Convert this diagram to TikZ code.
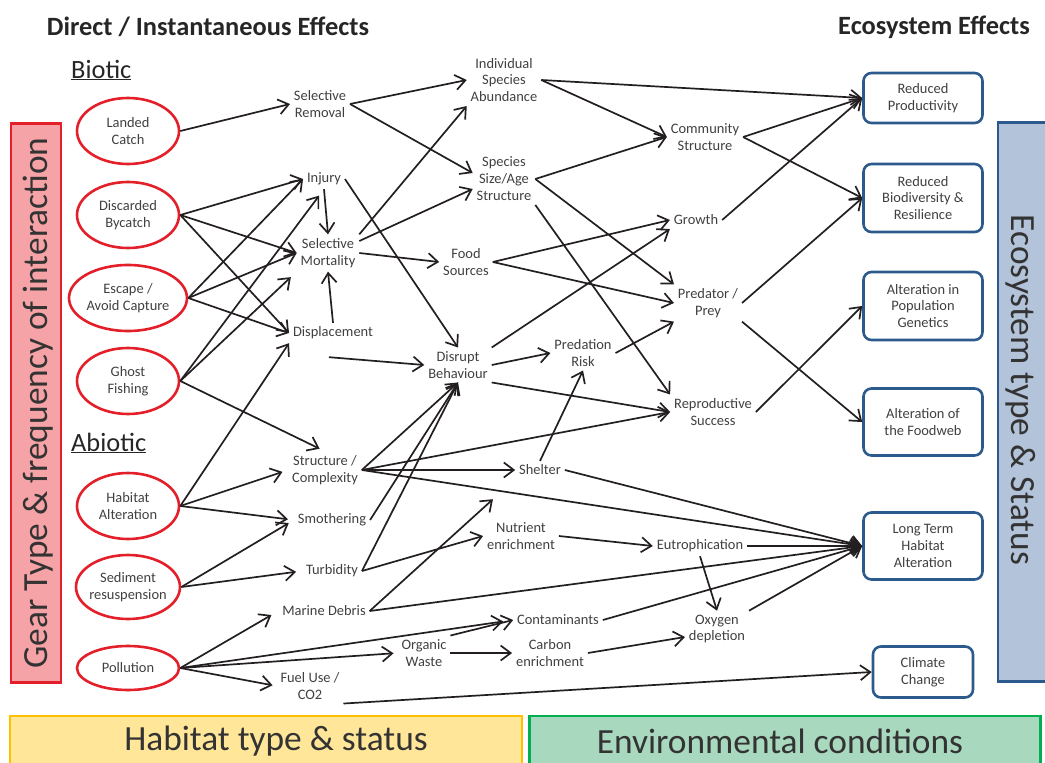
\documentclass[tikz,border=0pt]{standalone}
\usepackage{fontspec}
\setmainfont{Carlito}
\usetikzlibrary{shapes.geometric,arrows.meta,calc}
\definecolor{gearred}{HTML}{E3202A}
\definecolor{gearfill}{HTML}{F5A3A6}
\definecolor{ecoblue}{HTML}{2C5A8C}
\definecolor{ecofill}{HTML}{B3C3D9}
\definecolor{habborder}{HTML}{FFC000}
\definecolor{habfill}{HTML}{FFE699}
\definecolor{envborder}{HTML}{00B050}
\definecolor{envfill}{HTML}{A8D9BF}
\definecolor{txtgray}{HTML}{404040}
\definecolor{arrowc}{HTML}{231F20}
\begin{document}
\begin{tikzpicture}[x=1bp,y=-1bp,
  lbl/.style={align=center,text=txtgray,font=\fontsize{14.5}{17}\selectfont,inner sep=2bp,outer sep=2bp},
  src/.style={ellipse,draw=gearred,line width=2.6bp,minimum width=102bp,minimum height=66bp,inner sep=0pt},
  srctxt/.style={align=center,text=txtgray,font=\fontsize{14.5}{17}\selectfont,inner sep=0pt},
  eco/.style={rectangle,rounded corners=8bp,draw=ecoblue,line width=2.6bp,fill=white,align=center,text=txtgray,font=\fontsize{14.5}{17}\selectfont,minimum width=119bp,minimum height=67bp,inner sep=2bp},
  arr/.style={draw=arrowc,line width=1.7bp,-{Straight Barb[length=10bp,width=15bp]}},
  bigtxt/.style={text=black!80,font=\fontsize{35.5}{40}\selectfont},
  head/.style={text=black!85,font=\bfseries\fontsize{26.5}{30}\selectfont}
]
\useasboundingbox (0,0) rectangle (1045,763);

% side bars and bottom bars
\node[draw=gearred,fill=gearfill,line width=2.6bp,minimum width=50bp,minimum height=559bp,inner sep=0pt] (gear) at (36,403) {};
\node[bigtxt,rotate=90] (geart) at (38,403) {Gear Type \& frequency of interaction};
\node[draw=ecoblue,fill=ecofill,line width=2.6bp,minimum width=52bp,minimum height=559bp,inner sep=0pt] (ecobar) at (1024,402) {};
\node[bigtxt,rotate=-90] (ecobart) at (1021,390) {Ecosystem type \& Status};
\node[draw=habborder,fill=habfill,line width=2.6bp,minimum width=512bp,minimum height=70bp,inner sep=0pt] (hab) at (266,751) {};
\node[bigtxt] (habt) at (276,741) {Habitat type \& status};
\node[draw=envborder,fill=envfill,line width=2.6bp,minimum width=511bp,minimum height=70bp,inner sep=0pt] (env) at (785,751) {};
\node[bigtxt] (envt) at (780,741) {Environmental conditions};

% headings
\node[head] (h1) at (208,27) {Direct / Instantaneous Effects};
\node[head] (h2) at (934,27) {Ecosystem Effects};
\node[text=black!85,font=\fontsize{26.5}{30}\selectfont,anchor=west,inner sep=0pt] (bio) at (71,70) {\underline{Biotic}};
\node[text=black!85,font=\fontsize{26.5}{30}\selectfont,anchor=west,inner sep=0pt] (abio) at (71,443) {\underline{Abiotic}};

% source ellipses
\node[src] (lc) at (128,131) {};
\node[srctxt] (lct) at (lc) {Landed\\Catch};
\node[src] (db) at (128,215) {};
\node[srctxt] (dbt) at (db) {Discarded\\Bycatch};
\node[src,minimum width=118bp] (esc) at (128,298) {};
\node[srctxt] (esct) at (esc) {Escape /\\Avoid Capture};
\node[src] (gf) at (128,381) {};
\node[srctxt] (gft) at (gf) {Ghost\\Fishing};
\node[src] (ha) at (128,506) {};
\node[srctxt] (hat) at (ha) {Habitat\\Alteration};
\node[src,minimum width=104bp,minimum height=64bp] (sed) at (128,587) {};
\node[srctxt] (sedt) at (sed) {Sediment\\resuspension};
\node[src,minimum height=44bp] (pol) at (128,668) {};
\node[srctxt] (polt) at (pol) {Pollution};

% middle labels
\node[lbl] (sr) at (320,104) {Selective\\Removal};
\node[lbl] (inj) at (324,179) {Injury};
\node[lbl] (sm) at (328,253) {Selective\\Mortality};
\node[lbl] (disp) at (333,333) {Displacement};
\node[lbl] (sc) at (325,470) {Structure /\\Complexity};
\node[lbl] (smo) at (332,520) {Smothering};
\node[lbl] (turb) at (332,571) {Turbidity};
\node[lbl] (md) at (324,611) {Marine Debris};
\node[lbl] (fuel) at (310,686) {Fuel Use /\\CO2};
\node[lbl] (isa) at (504,80) {Individual\\Species\\Abundance};
\node[lbl] (ssa) at (504,179) {Species\\Size/Age\\Structure};
\node[lbl] (fs) at (466,262) {Food\\Sources};
\node[lbl] (dis) at (458,365) {Disrupt\\Behaviour};
\node[lbl] (pr) at (583,353) {Predation\\Risk};
\node[lbl] (sh) at (540,470) {Shelter};
\node[lbl] (ne) at (521,536) {Nutrient\\enrichment};
\node[lbl] (cont) at (558,620) {Contaminants};
\node[lbl] (ow) at (424,653) {Organic\\Waste};
\node[lbl] (ce) at (550,653) {Carbon\\enrichment};
\node[lbl] (cs) at (705,137) {Community\\Structure};
\node[lbl] (gr) at (696,220) {Growth};
\node[lbl] (pp) at (708,303) {Predator /\\Prey};
\node[lbl] (rs) at (713,412) {Reproductive\\Success};
\node[lbl] (eu) at (700,546) {Eutrophication};
\node[lbl] (od) at (717,629) {Oxygen\\depletion};

% ecosystem effect boxes
\node[eco,minimum height=50bp] (rp) at (923,98) {Reduced\\Productivity};
\node[eco,minimum height=68bp] (rbr) at (923,198) {Reduced\\Biodiversity \&\\Resilience};
\node[eco,minimum height=68bp] (apg) at (923,306) {Alteration in\\Population\\Genetics};
\node[eco] (aof) at (923,422) {Alteration of\\the Foodweb};
\node[eco] (lth) at (923,546) {Long Term\\Habitat\\Alteration};
\node[eco,minimum width=100bp,minimum height=51bp] (cc) at (923,672) {Climate\\Change};

% connectors: sources
\draw[arr] (lc.east) -- (sr.west);
\draw[arr] (db.east) -- (inj.west);
\draw[arr] (db.east) -- (sm.west);
\draw[arr] (db.east) -- (disp.west);
\draw[arr] (esc.east) -- (inj.west);
\draw[arr] (esc.east) -- (sm.west);
\draw[arr] (esc.east) -- (disp.west);
\draw[arr,shorten >=8bp] (gf.east) -- (inj.south);
\draw[arr,shorten >=8bp] (gf.east) -- (sm.south west);
\draw[arr,shorten >=6bp] (gf.east) -- (sc.north);
\draw[arr] (ha.east) -- (disp.south west);
\draw[arr,shorten >=6bp] (ha.east) -- (sc.west);
\draw[arr,shorten >=6bp] (ha.east) -- (smo.west);
\draw[arr,shorten >=6bp] (sed.east) -- (smo.west);
\draw[arr,shorten >=6bp] (sed.east) -- (turb.west);
\draw[arr,shorten >=8bp] (pol.east) -- (md.west);
\draw[arr,shorten >=10bp] (pol.east) -- (cont.west);
\draw[arr,shorten >=4bp] (pol.east) -- (ow.west);
\draw[arr,shorten >=4bp] (pol.east) -- (fuel.west);

% connectors: direct effects
\draw[arr] (inj.south) -- (sm.north);
\draw[arr] (disp.north) -- (sm.south);
\draw[arr] (inj.east) -- (dis.north);
\draw[arr] ($(disp.south)+(-4,14)$) -- (dis.west);
\draw[arr] (sr.east) -- (isa.west);
\draw[arr] (sr.east) -- ($(ssa.west)+(0,-6)$);
\draw[arr] (sm.north east) -- (isa.south west);
\draw[arr] ($(sm.east)+(0,-12)$) -- ($(ssa.west)+(0,10)$);
\draw[arr] (sm.east) -- (fs.west);
\draw[arr] (sc.east) -- (dis.south);
\draw[arr] (sc.east) -- (rs.west);
\draw[arr] (sc.east) -- (sh.west);
\draw[arr] (sc.east) -- (lth.west);
\draw[arr] (smo.east) -- (dis.south);
\draw[arr] (turb.east) -- (dis.south);
\draw[arr] (turb.east) -- (ne.west);
\draw[arr,shorten >=30bp] (md.east) -- (sh.south west);
\draw[arr] (md.east) -- (lth.west);
\draw[arr] (ow.north east) -- (cont.west);
\draw[arr] (ow.east) -- (ce.west);
\draw[arr] (fuel.south east) -- (cc.west);

% connectors: secondary effects
\draw[arr] (isa.east) -- (rp.west);
\draw[arr] (isa.east) -- (cs.west);
\draw[arr] (ssa.east) -- (cs.west);
\draw[arr] (ssa.east) -- (pp.north west);
\draw[arr] (ssa.south east) -- (rs.north west);
\draw[arr] (fs.east) -- (gr.west);
\draw[arr] (fs.east) -- (pp.west);
\draw[arr] (dis.north east) -- (gr.south west);
\draw[arr] (dis.east) -- (pr.west);
\draw[arr] (dis.south east) -- (rs.west);
\draw[arr] (pr.east) -- (pp.south west);
\draw[arr] (sh.north) -- (pr.south);
\draw[arr] (sh.east) -- (lth.west);
\draw[arr] (ne.east) -- (eu.west);
\draw[arr] (eu.east) -- (lth.west);
\draw[arr] (eu.south) -- (od.north);
\draw[arr] (cont.east) -- (lth.west);
\draw[arr] (od.north east) -- (lth.west);
\draw[arr] (ce.east) -- ($(od.west)+(0,8)$);

% connectors: ecosystem effects
\draw[arr] (cs.east) -- (rp.west);
\draw[arr] (cs.east) -- (rbr.west);
\draw[arr] (gr.east) -- (rp.west);
\draw[arr] (pp.east) -- (rbr.west);
\draw[arr] (pp.south east) -- (aof.west);
\draw[arr] (rs.east) -- (apg.west);
\end{tikzpicture}
\end{document}
